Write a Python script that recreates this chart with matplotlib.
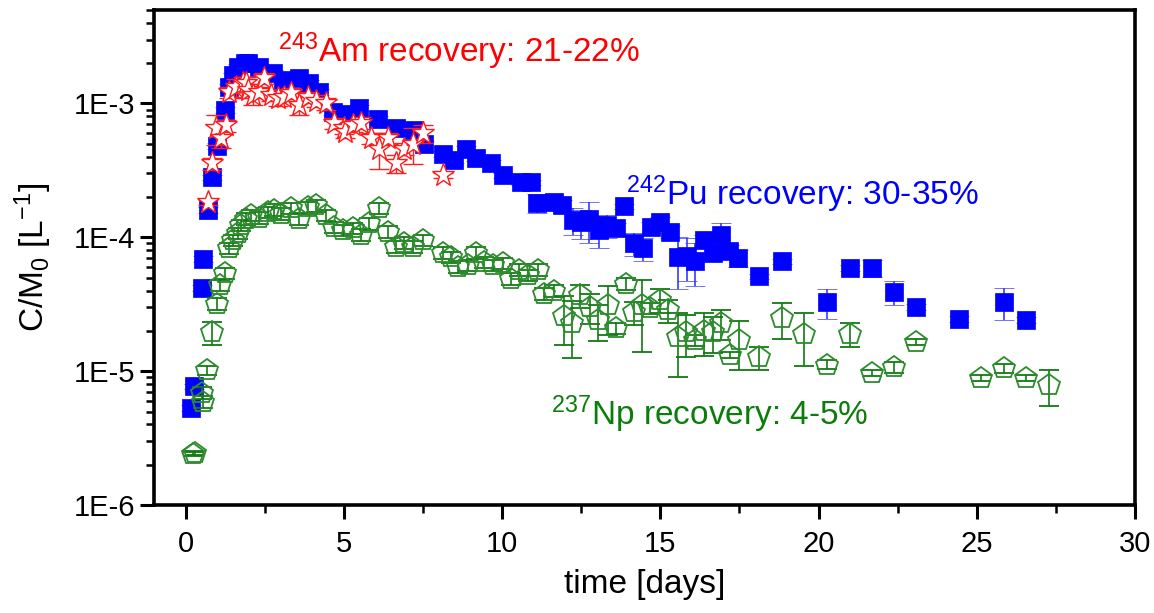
import numpy as np
import matplotlib
matplotlib.use("Agg")
import matplotlib.pyplot as plt
from matplotlib.ticker import FixedLocator, LogLocator, NullFormatter

plt.rcParams['font.family'] = ['Liberation Sans', 'DejaVu Sans']
plt.rcParams['mathtext.fontset'] = 'custom'
plt.rcParams['mathtext.rm'] = 'Liberation Sans'

# 242Pu breakthrough: time [days], C/M0 [1/L], relative error
pu_t = [0.16, 0.25, 0.50, 0.54, 0.70, 0.82, 0.98, 1.23, 1.36, 1.49, 1.65, 1.87,
        1.96, 2.31, 2.75, 3.07, 3.58, 3.89, 4.21, 4.65, 4.90, 5.47, 6.08, 6.65,
        7.22, 7.53, 8.13, 8.48, 8.86, 9.18, 9.65, 10.03, 10.60, 10.90, 11.10,
        11.65, 11.90, 12.25, 12.50, 12.75, 13.07, 13.30, 13.60, 13.86, 14.18,
        14.46, 14.70, 15.00, 15.30, 15.57, 15.85, 16.08, 16.39, 16.65, 16.93,
        17.18, 17.47, 18.13, 18.86, 20.28, 20.98, 21.68, 22.37, 23.07, 24.43,
        25.85, 26.55]
pu_c = [5.3e-6, 7.7e-6, 4.2e-5, 6.9e-5, 1.6e-4, 2.8e-4, 4.8e-4, 9.0e-4, 1.32e-3,
        1.62e-3, 1.86e-3, 2.0e-3, 2.0e-3, 1.86e-3, 1.70e-3, 1.49e-3, 1.56e-3,
        1.43e-3, 1.21e-3, 8.6e-4, 8.4e-4, 9.2e-4, 7.7e-4, 6.5e-4, 6.3e-4, 5.0e-4,
        4.2e-4, 3.76e-4, 4.6e-4, 3.9e-4, 3.6e-4, 2.9e-4, 2.57e-4, 2.57e-4,
        1.8e-4, 1.82e-4, 1.74e-4, 1.34e-4, 1.29e-4, 1.38e-4, 1.13e-4, 1.23e-4,
        1.17e-4, 1.7e-4, 9.0e-5, 8.3e-5, 1.19e-4, 1.29e-4, 1.1e-4, 7.1e-5,
        7.3e-5, 6.7e-5, 9.5e-5, 7.6e-5, 1.04e-4, 7.9e-5, 7.0e-5, 5.1e-5, 6.6e-5,
        3.3e-5, 5.9e-5, 5.9e-5, 3.9e-5, 3.0e-5, 2.45e-5, 3.3e-5, 2.4e-5]
pu_rel = [0.05, 0.05, 0.05, 0.05, 0.05, 0.05, 0.05, 0.05, 0.05, 0.05, 0.05, 0.05,
          0.05, 0.05, 0.05, 0.05, 0.05, 0.05, 0.05, 0.05, 0.05, 0.05, 0.05, 0.05,
          0.05, 0.05, 0.05, 0.05, 0.05, 0.05, 0.05, 0.05, 0.05, 0.05, 0.16,
          0.10, 0.10, 0.23, 0.25, 0.34, 0.27, 0.20, 0.10, 0.05, 0.20, 0.20,
          0.10, 0.10, 0.10, 0.42, 0.35, 0.35, 0.10, 0.10, 0.23, 0.10, 0.15,
          0.05, 0.05, 0.25, 0.05, 0.15, 0.20, 0.05, 0.05, 0.27, 0.05]

# 243Am breakthrough
am_t = [0.70, 0.82, 0.95, 1.10, 1.27, 1.36, 1.58, 1.80, 1.90, 1.96, 2.12, 2.31,
        2.47, 2.69, 2.91, 3.10, 3.32, 3.58, 3.86, 4.11, 4.43, 4.68, 5.00, 5.05,
        5.28, 5.54, 5.85, 6.10, 6.39, 6.65, 6.90, 7.18, 7.50, 8.13]
am_c = [1.82e-4, 3.56e-4, 6.5e-4, 5.5e-4, 6.85e-4, 1.21e-3, 1.32e-3, 1.41e-3,
        1.43e-3, 1.25e-3, 1.15e-3, 1.21e-3, 1.54e-3, 1.15e-3, 1.09e-3, 1.11e-3,
        1.19e-3, 9.7e-4, 1.11e-3, 1.05e-3, 1.0e-3, 7.1e-4, 6.6e-4, 6.1e-4,
        6.85e-4, 7.2e-4, 5.5e-4, 4.6e-4, 5.5e-4, 3.56e-4, 4.6e-4, 5.0e-4,
        6.0e-4, 2.9e-4]
am_rel = [0.05, 0.10, 0.25, 0.15, 0.10, 0.10, 0.15, 0.12, 0.10, 0.12, 0.15, 0.10,
          0.10, 0.10, 0.12, 0.10, 0.10, 0.15, 0.10, 0.10, 0.10, 0.10, 0.10, 0.10,
          0.10, 0.10, 0.10, 0.30, 0.10, 0.15, 0.10, 0.30, 0.15, 0.05]

# 237Np breakthrough
np_t = [0.22, 0.30, 0.50, 0.55, 0.68, 0.82, 0.98, 1.08, 1.23, 1.36, 1.49, 1.65,
        1.74, 1.90, 2.06, 2.31, 2.59, 2.78, 3.00, 3.32, 3.58, 3.86, 4.11, 4.43,
        4.68, 4.97, 5.28, 5.54, 5.79, 6.10, 6.39, 6.65, 6.90, 7.18, 7.50, 8.13,
        8.39, 8.60, 8.92, 9.18, 9.43, 9.72, 10.03, 10.28, 10.54, 10.82, 11.14,
        11.33, 11.65, 11.96, 12.20, 12.47, 12.78, 13.04, 13.35, 13.60, 13.90,
        14.18, 14.43, 14.68, 15.00, 15.25, 15.57, 15.82, 16.08, 16.39, 16.65,
        16.93, 17.20, 17.50, 18.13, 18.83, 19.53, 20.28, 20.98, 21.68, 22.37,
        23.07, 25.13, 25.85, 26.55, 27.28]
np_c = [2.4e-6, 2.45e-6, 6.9e-6, 5.9e-6, 1.02e-5, 1.95e-5, 3.2e-5, 4.4e-5, 5.4e-5,
        8.3e-5, 9.5e-5, 1.07e-4, 1.23e-4, 1.38e-4, 1.46e-4, 1.40e-4, 1.54e-4,
        1.60e-4, 1.50e-4, 1.65e-4, 1.38e-4, 1.67e-4, 1.73e-4, 1.46e-4, 1.19e-4,
        1.13e-4, 1.17e-4, 1.04e-4, 1.27e-4, 1.65e-4, 1.10e-4, 8.5e-5, 9.1e-5,
        8.5e-5, 9.5e-5, 7.7e-5, 7.1e-5, 6.0e-5, 6.2e-5, 7.7e-5, 6.5e-5, 6.2e-5,
        6.4e-5, 4.9e-5, 5.7e-5, 5.2e-5, 5.7e-5, 3.8e-5, 4.0e-5, 2.6e-5, 2.3e-5,
        3.7e-5, 3.0e-5, 2.4e-5, 3.1e-5, 2.1e-5, 4.5e-5, 2.75e-5, 3.1e-5, 2.95e-5,
        3.4e-5, 2.85e-5, 1.8e-5, 1.95e-5, 1.7e-5, 2.0e-5, 1.95e-5, 2.3e-5,
        1.32e-5, 1.7e-5, 1.27e-5, 2.5e-5, 1.9e-5, 1.12e-5, 1.9e-5, 9.7e-6,
        1.07e-5, 1.66e-5, 8.9e-6, 1.05e-5, 8.9e-6, 7.9e-6]
np_rel = [0.03, 0.03, 0.10, 0.10, 0.08, 0.20, 0.10, 0.10, 0.10, 0.10, 0.10, 0.10,
          0.10, 0.10, 0.10, 0.10, 0.10, 0.10, 0.10, 0.10, 0.10, 0.10, 0.10, 0.10,
          0.10, 0.10, 0.10, 0.10, 0.10, 0.10, 0.10, 0.10, 0.10, 0.10, 0.10, 0.10,
          0.10, 0.10, 0.10, 0.10, 0.10, 0.10, 0.10, 0.10, 0.10, 0.10, 0.10,
          0.10, 0.10, 0.40, 0.45, 0.20, 0.25, 0.30, 0.40, 0.10, 0.10, 0.20,
          0.55, 0.10, 0.20, 0.20, 0.50, 0.35, 0.10, 0.35, 0.30, 0.25, 0.05,
          0.40, 0.20, 0.30, 0.42, 0.08, 0.20, 0.05, 0.10, 0.05, 0.05, 0.08,
          0.05, 0.30]

x_major = [0, 5, 10, 15, 20, 25, 30]
y_major = [1e-6, 1e-5, 1e-4, 1e-3]
y_labels = ['1E-6', '1E-5', '1E-4', '1E-3']

fig = plt.figure(figsize=(11.54, 6.13), dpi=100)
ax = fig.add_axes([0.1335, 0.176, 0.85, 0.808])

pu_c = np.array(pu_c)
am_c = np.array(am_c)
np_c = np.array(np_c)

ax.errorbar(pu_t, pu_c, yerr=pu_c * np.array(pu_rel), fmt='s', ms=13,
            mfc='#0000ff', mec='#0000ff', mew=0.5, ecolor='#3a3aff',
            elinewidth=1.2, capsize=7, capthick=1.2, zorder=2)
ax.errorbar(am_t, am_c, yerr=am_c * np.array(am_rel), fmt='*', ms=17,
            mfc='white', mec='#ff1a1a', mew=1.0, ecolor='#ff2020',
            elinewidth=1.0, capsize=7, capthick=1.0, zorder=3)
ax.errorbar(np_t, np_c, yerr=np_c * np.array(np_rel), fmt='p', ms=16,
            mfc='none', mec='#2e8b2e', mew=1.3, ecolor='#107a10',
            elinewidth=1.2, capsize=7, capthick=1.2, zorder=4)

ax.set_yscale('log')
ax.set_xlim(-1, 30)
ax.set_ylim(1e-6, 5e-3)

ax.set_xticks(x_major)
ax.xaxis.set_minor_locator(FixedLocator(np.arange(2.5, 30, 5)))
ax.set_yticks(y_major)
ax.set_yticklabels(y_labels)
ax.yaxis.set_minor_locator(LogLocator(base=10, subs=np.arange(2, 10)))
ax.yaxis.set_minor_formatter(NullFormatter())

for s in ax.spines.values():
    s.set_linewidth(2.6)
ax.tick_params(which='major', direction='out', length=10, width=2.2,
               labelsize=21, top=False, right=False)
ax.tick_params(which='minor', direction='out', length=6, width=1.8,
               top=False, right=False)
ax.tick_params(axis='x', which='major', labelsize=21, pad=8)

ax.set_xlabel('time [days]', fontsize=24, labelpad=8)
ax.set_ylabel(r'C/M$\mathregular{_0}$ [L$\mathregular{^{-1}}$]', fontsize=24,
              labelpad=14)

ax.text(2.91, 2.02e-3, r'$\mathregular{^{243}}$Am recovery: 21-22%',
        color='#ff0000', fontsize=24, va='baseline')
ax.text(13.92, 1.73e-4, r'$\mathregular{^{242}}$Pu recovery: 30-35%',
        color='#0000ff', fontsize=24, va='baseline')
ax.text(11.55, 3.95e-6, r'$\mathregular{^{237}}$Np recovery: 4-5%',
        color='#0a7d0a', fontsize=24, va='baseline')

fig.savefig('out.png', dpi=100)
